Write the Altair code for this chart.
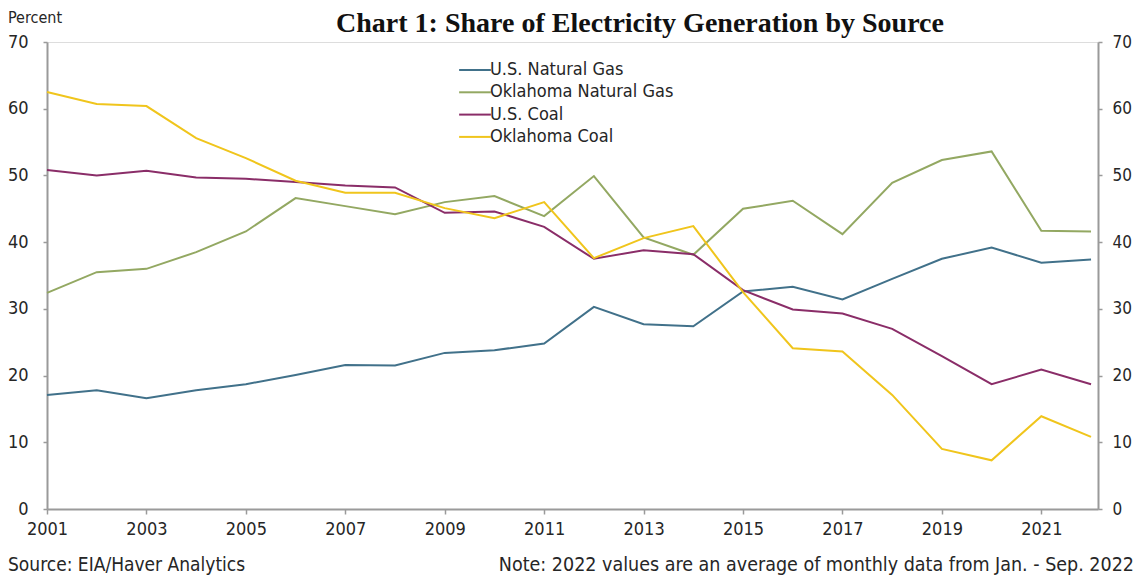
import altair as alt
import pandas as pd

years = list(range(2001, 2023))
series_names = ["U.S. Natural Gas", "Oklahoma Natural Gas", "U.S. Coal", "Oklahoma Coal"]
series_colors = ["#41718a", "#93a862", "#8a2d68", "#f0c51c"]

us_gas = [17.1, 17.8, 16.6, 17.8, 18.7, 20.1, 21.6, 21.5, 23.4, 23.8, 24.8, 30.3,
          27.7, 27.4, 32.6, 33.3, 31.4, 34.5, 37.5, 39.2, 36.9, 37.4]
ok_gas = [32.4, 35.5, 36.0, 38.5, 41.6, 46.6, 45.4, 44.2, 46.0, 46.9, 43.9, 49.9,
          40.7, 38.1, 45.0, 46.2, 41.2, 48.9, 52.3, 53.6, 41.7, 41.6]
us_coal = [50.8, 50.0, 50.7, 49.7, 49.5, 49.0, 48.5, 48.2, 44.4, 44.6, 42.3, 37.5,
           38.8, 38.2, 32.8, 29.9, 29.3, 27.0, 22.9, 18.7, 20.9, 18.7]
ok_coal = [62.5, 60.7, 60.4, 55.6, 52.6, 49.2, 47.4, 47.4, 45.1, 43.6, 46.0, 37.6,
           40.6, 42.4, 32.5, 24.1, 23.6, 17.1, 9.0, 7.3, 13.9, 10.8]

x_ticks = list(range(2001, 2022, 2))
y_ticks = list(range(0, 71, 10))

title_text = "Chart 1: Share of Electricity Generation by Source"
unit_text = "Percent"
source_text = "Source: EIA/Haver Analytics"
note_text = "Note: 2022 values are an average of monthly data from Jan. - Sep. 2022"

rows = []
for name, vals in zip(series_names, [us_gas, ok_gas, us_coal, ok_coal]):
    for yr, v in zip(years, vals):
        rows.append({"year": yr, "value": v, "series": name})
df = pd.DataFrame(rows)

FONT = "DejaVu Sans Condensed, DejaVu Sans"
GRAY = "#9a9a9a"
TXT = "#262626"

xscale = alt.Scale(domain=[2001, 2022.14], nice=False, zero=False)
yscale = alt.Scale(domain=[0, 70], nice=False)

x_enc = alt.X("year:Q", scale=xscale,
              axis=alt.Axis(values=x_ticks, format="d", title=None, grid=False,
                            domainColor=GRAY, domainWidth=2, tickColor=GRAY,
                            tickSize=5, tickWidth=1.5, labelFont=FONT, labelFontSize=18,
                            labelColor=TXT, labelPadding=6, labelFlush=False))

left_axis = alt.Axis(values=y_ticks, title=None, grid=False, domainColor=GRAY,
                     domainWidth=2, tickColor=GRAY, tickSize=4, tickWidth=1.5,
                     labelFont=FONT, labelFontSize=18, labelColor=TXT, labelPadding=15)
right_axis = alt.Axis(values=y_ticks, title=None, grid=False, orient="right",
                      domainColor=GRAY, domainWidth=2, tickColor=GRAY, tickSize=4,
                      tickWidth=1.5, labelFont=FONT, labelFontSize=17, labelColor=TXT,
                      labelPadding=10)

lines = alt.Chart(df).mark_line(strokeWidth=2).encode(
    x=x_enc,
    y=alt.Y("value:Q", scale=yscale, axis=left_axis),
    color=alt.Color("series:N",
                    scale=alt.Scale(domain=series_names, range=series_colors),
                    sort=series_names,
                    legend=alt.Legend(orient="none", legendX=419, legendY=19, title=None,
                                      symbolType="M-3,0H3", symbolSize=112,
                                      symbolStrokeWidth=2, labelFont=FONT,
                                      labelFontSize=18, labelColor=TXT, labelOffset=6,
                                      labelLimit=0, rowPadding=4.3, padding=0)),
    order=alt.Order("year:Q"),
)

right = alt.Chart(df).mark_line(opacity=0).encode(
    x=x_enc,
    y=alt.Y("value:Q", scale=yscale, axis=right_axis),
    detail="series:N",
)

one = pd.DataFrame({"k": [0]})
title_mark = alt.Chart(one).mark_text(
    text=title_text, font="Liberation Serif", fontWeight="bold", fontSize=28,
    color="#111111", align="center", baseline="alphabetic"
).encode(x=alt.value(593), y=alt.value(-10))
unit_mark = alt.Chart(one).mark_text(
    text=unit_text, font=FONT, fontSize=16, color=TXT, align="left", baseline="alphabetic"
).encode(x=alt.value(-39), y=alt.value(-19))
source_mark = alt.Chart(one).mark_text(
    text=source_text, font=FONT, fontSize=19, color=TXT, align="left", baseline="alphabetic"
).encode(x=alt.value(-39), y=alt.value(529))
note_mark = alt.Chart(one).mark_text(
    text=note_text, font=FONT, fontSize=19.5, color=TXT, align="right", baseline="alphabetic"
).encode(x=alt.value(1087), y=alt.value(529))

chart = alt.layer(lines, right, title_mark, unit_mark, source_mark, note_mark).resolve_axis(
    y="independent"
).properties(
    width=1051, height=467,
    padding={"left": 39, "top": 34, "right": 37, "bottom": 66},
    autosize=alt.AutoSizeParams(type="none"),
).configure_view(stroke=None).configure(background="white")

chart.save("out.html", embed_options={"renderer": "svg", "actions": False})
